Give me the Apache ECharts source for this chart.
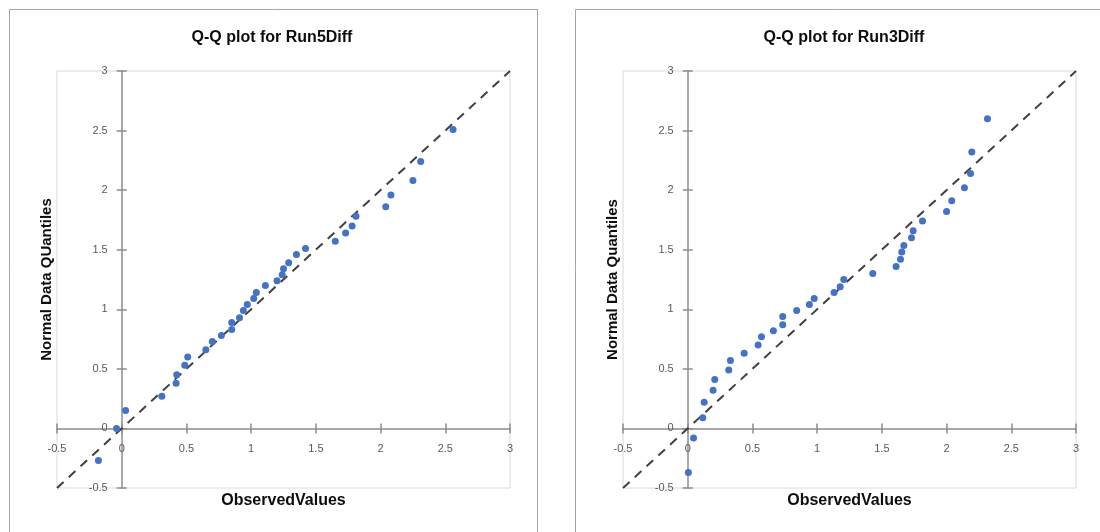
<!DOCTYPE html>
<html>
<head>
<meta charset="utf-8">
<script src="https://cdn.jsdelivr.net/npm/echarts@6/dist/echarts.min.js"></script>
<style>
html,body{margin:0;padding:0;background:#fff;}
#chart{width:1100px;height:532px;}
</style>
</head>
<body>
<div id="chart"></div>
<script>
// Data
const titles = ['Q-Q plot for Run5Diff', 'Q-Q plot for Run3Diff'];
const yTitles = ['Normal Data QUantiles', 'Normal Data Quantiles'];
const xTitle = 'ObservedValues';
const axisTicks = [-0.5, 0, 0.5, 1, 1.5, 2, 2.5, 3];

const run5Observed = [-0.18, -0.04, 0.03, 0.31, 0.42, 0.425, 0.487, 0.51, 0.65, 0.70, 0.77, 0.85, 0.85, 0.91, 0.94, 0.97, 1.02, 1.04, 1.11, 1.20, 1.24, 1.25, 1.29, 1.35, 1.42, 1.65, 1.73, 1.78, 1.81, 2.04, 2.08, 2.25, 2.31, 2.56];
const run5Quantiles = [-0.27, 0.0, 0.15, 0.27, 0.38, 0.45, 0.53, 0.60, 0.66, 0.73, 0.78, 0.83, 0.89, 0.93, 0.99, 1.04, 1.09, 1.14, 1.20, 1.24, 1.29, 1.34, 1.39, 1.46, 1.51, 1.57, 1.64, 1.70, 1.78, 1.86, 1.96, 2.08, 2.24, 2.51];

const run3Observed = [0.005, 0.045, 0.116, 0.127, 0.196, 0.209, 0.317, 0.33, 0.436, 0.544, 0.57, 0.662, 0.734, 0.734, 0.842, 0.94, 0.977, 1.131, 1.178, 1.206, 1.43, 1.61, 1.644, 1.654, 1.67, 1.729, 1.742, 1.814, 2.0, 2.04, 2.138, 2.185, 2.195, 2.316];
const run3Quantiles = [-0.37, -0.08, 0.09, 0.22, 0.32, 0.41, 0.49, 0.57, 0.63, 0.70, 0.77, 0.82, 0.87, 0.94, 0.99, 1.04, 1.09, 1.14, 1.19, 1.25, 1.30, 1.36, 1.42, 1.48, 1.535, 1.60, 1.66, 1.74, 1.82, 1.91, 2.02, 2.14, 2.32, 2.60];

const refLine = [[-0.5, -0.5], [3, 3]];

const axMin = axisTicks[0], axMax = axisTicks[axisTicks.length - 1], axStep = axisTicks[1] - axisTicks[0];
const FONT = 'Liberation Sans, Arial, sans-serif';
const labelColor = '#595959';
const axisColor = '#8c8c8c';

function zip(a, b) { return a.map((v, i) => [v, b[i]]); }

const GW = 453, GH = 417;
const grids = [
  { left: 57, top: 71, width: GW, height: GH, show: true, borderColor: '#d9d9d9', borderWidth: 1, backgroundColor: 'transparent', containLabel: false, outerBoundsMode: 'none' },
  { left: 623, top: 71, width: GW, height: GH, show: true, borderColor: '#d9d9d9', borderWidth: 1, backgroundColor: 'transparent', containLabel: false, outerBoundsMode: 'none' }
];
// axes cross at value 0: shift the axis (line, ticks, labels, name) from the grid edge to the zero line
const xOffset = -GH * (0 - axMin) / (axMax - axMin);
const yOffset = -GW * (0 - axMin) / (axMax - axMin);

const xAxes = [], yAxes = [], series = [];
const sets = [zip(run5Observed, run5Quantiles), zip(run3Observed, run3Quantiles)];

grids.forEach((g, gi) => {
  const base = {
    type: 'value', gridIndex: gi, min: axMin, max: axMax, interval: axStep,
    splitLine: { show: false },
    axisLine: { show: true, onZero: false, lineStyle: { color: axisColor, width: 1.5 } }
  };
  xAxes.push(Object.assign({}, base, {
    position: 'bottom', offset: xOffset,
    axisTick: { show: true, inside: false, length: 5, lineStyle: { color: axisColor, width: 1.5 } },
    axisLabel: { show: true, color: labelColor, fontSize: 11, fontFamily: FONT, margin: 15, showMinLabel: true, showMaxLabel: true },
    name: xTitle, nameLocation: 'middle', nameGap: 64,
    nameTextStyle: { color: '#0d0d0d', fontSize: 16, fontWeight: 'bold', fontFamily: FONT }
  }));
  xAxes.push(Object.assign({}, base, {
    position: 'bottom', offset: xOffset,
    axisLine: { show: false, onZero: false },
    axisTick: { show: true, inside: true, length: 5, lineStyle: { color: axisColor, width: 1.5 } },
    axisLabel: { show: false }
  }));
  yAxes.push(Object.assign({}, base, {
    position: 'left', offset: yOffset,
    axisTick: { show: true, inside: false, length: 5, lineStyle: { color: axisColor, width: 1.5 } },
    axisLabel: { show: true, color: labelColor, fontSize: 11, fontFamily: FONT, margin: 14, showMinLabel: true, showMaxLabel: true },
    name: yTitles[gi], nameLocation: 'middle', nameGap: 67,
    nameTextStyle: { color: '#0d0d0d', fontSize: 15, fontWeight: 'bold', fontFamily: FONT }
  }));
  yAxes.push(Object.assign({}, base, {
    position: 'left', offset: yOffset,
    axisLine: { show: false, onZero: false },
    axisTick: { show: true, inside: true, length: 5, lineStyle: { color: axisColor, width: 1.5 } },
    axisLabel: { show: false }
  }));

  const xi = gi * 2, yi = gi * 2;
  series.push({
    type: 'line', xAxisIndex: xi, yAxisIndex: yi, data: refLine, symbol: 'none', silent: true,
    lineStyle: { color: '#404040', width: 2, type: [9, 7] }, z: 2
  });
  series.push({
    type: 'scatter', xAxisIndex: xi, yAxisIndex: yi, data: sets[gi], symbolSize: 7,
    itemStyle: { color: '#4472C4', opacity: 1 }, z: 3
  });
});

const chart = echarts.init(document.getElementById('chart'), null, { renderer: 'canvas' });
chart.setOption({
  backgroundColor: '#ffffff',
  animation: false,
  title: [
    { text: titles[0], left: 267, top: 25, textAlign: 'center', textStyle: { fontSize: 16, fontWeight: 'bold', color: '#0d0d0d', fontFamily: FONT } },
    { text: titles[1], left: 839, top: 25, textAlign: 'center', textStyle: { fontSize: 16, fontWeight: 'bold', color: '#0d0d0d', fontFamily: FONT } }
  ],
  graphic: [
    { type: 'rect', shape: { x: 9.5, y: 9.5, width: 528, height: 600 }, style: { fill: 'none', stroke: '#a6a6a6', lineWidth: 1 }, silent: true },
    { type: 'rect', shape: { x: 575.5, y: 9.5, width: 600, height: 600 }, style: { fill: 'none', stroke: '#a6a6a6', lineWidth: 1 }, silent: true }
  ],
  grid: grids,
  xAxis: xAxes,
  yAxis: yAxes,
  series: series
});
</script>
</body>
</html>
